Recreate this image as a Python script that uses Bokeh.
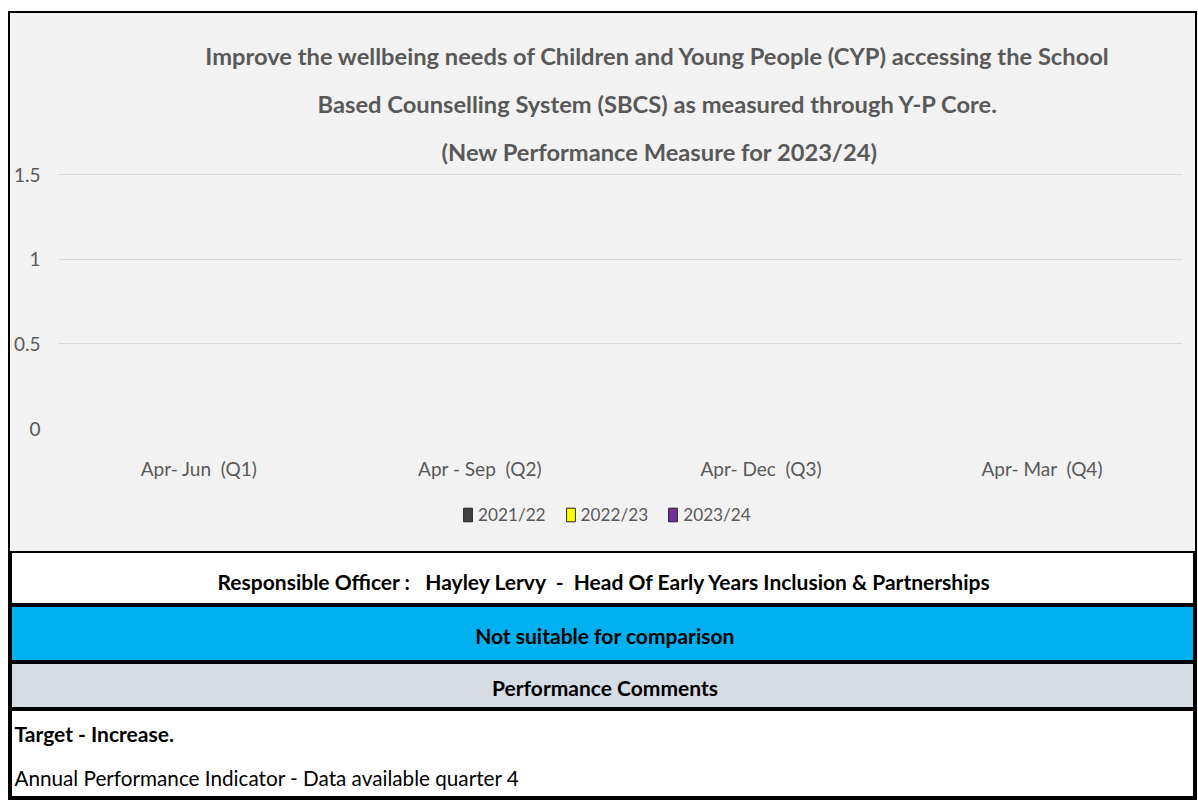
import math
from bokeh.plotting import figure
from bokeh.layouts import column
from bokeh.models import (FactorRange, Range1d, FixedTicker, Legend, LegendItem, Title,
                          ColumnDataSource, NumeralTickFormatter)
from bokeh.transform import dodge
from bokeh.core.properties import value
from bokeh.embed import file_html
from bokeh.resources import INLINE

NB = "\u00a0"

# ---------------- data ----------------
categories = ["Apr- Jun" + NB * 2 + "(Q1)", "Apr - Sep" + NB * 2 + "(Q2)",
              "Apr- Dec" + NB * 2 + "(Q3)", "Apr- Mar" + NB * 2 + "(Q4)"]
series_names = ["2021/22", "2022/23", "2023/24"]
values_2021_22 = [None, None, None, None]
values_2022_23 = [None, None, None, None]
values_2023_24 = [None, None, None, None]
series_colors = ["#404040", "#ffff00", "#7030a0"]
y_ticks = [0, 0.5, 1, 1.5]

title_lines = [
    "Improve the wellbeing needs of Children and Young People (CYP) accessing the School",
    "Based Counselling System (SBCS) as measured through Y-P Core.",
    "(New Performance Measure for 2023/24)",
]
officer_text = ("Responsible Officer :" + NB * 3 + "Hayley Lervy" + NB * 2 + "-" + NB * 2 +
                "Head Of Early Years Inclusion & Partnerships")
comparison_text = "Not suitable for comparison"
comments_header = "Performance Comments"
target_text = "Target - Increase."
comment_text = "Annual Performance Indicator - Data available quarter 4"

FONT = "Lato"
GREY = "#595959"
BG = "#f2f2f2"
W = 1185


def nanify(vals):
    return [float("nan") if v is None else v for v in vals]


src = ColumnDataSource(dict(cat=categories,
                            s0=nanify(values_2021_22),
                            s1=nanify(values_2022_23),
                            s2=nanify(values_2023_24)))
offsets = [-0.25, 0.0, 0.25]


def strip(h, bg, outline=None):
    f = figure(width=W, height=h, x_range=Range1d(0, W), y_range=Range1d(h, 0), title=None,
               output_backend="svg", toolbar_location=None, min_border=0, frame_align=False,
               x_axis_location=None, y_axis_location=None,
               background_fill_color=bg, border_fill_color=bg,
               outline_line_color=outline, outline_line_width=3)
    f.grid.visible = False
    return f


# ---------------- title strip (first two lines) ----------------
ts = strip(112, BG)
ts.text(x=[647.5] * 2, y=[42, 90], text=title_lines[:2], text_align="center",
        text_baseline="middle", text_font=value(FONT), text_font_size="23.7px",
        text_font_style="bold", text_color=GREY)

# ---------------- chart ----------------
# top of range padded by one pixel's worth so the 1.5 gridline is not clipped
p = figure(x_range=FactorRange(*categories), y_range=Range1d(0, 1.5 * 255 / 254),
           width=W, height=367, title=None,
           output_backend="svg", toolbar_location=None, frame_align=False,
           min_border_left=48, min_border_right=13, min_border_top=48, min_border_bottom=64,
           background_fill_color=BG, border_fill_color=BG,
           outline_line_color=None)

p.add_layout(Title(text=title_lines[2], align="left", offset=383, standoff=16,
                   text_font=FONT, text_font_size="23.7px", text_font_style="bold",
                   text_color=GREY), "above")

for i, name in enumerate(series_names):
    p.vbar(x=dodge("cat", offsets[i], range=p.x_range), top="s%d" % i, width=0.22,
           source=src, fill_color=series_colors[i], line_color="#262626", line_width=1)

p.xgrid.grid_line_color = None
p.ygrid.grid_line_color = "#d9d9d9"
p.ygrid.grid_line_width = 1

p.yaxis.ticker = FixedTicker(ticks=y_ticks)
p.yaxis.formatter = NumeralTickFormatter(format="0.[0]")
for ax in (p.xaxis, p.yaxis):
    ax.axis_line_color = None
    ax.major_tick_line_color = None
    ax.minor_tick_line_color = None
    ax.major_tick_out = 0
    ax.major_tick_in = 0
    ax.major_label_text_font = FONT
    ax.major_label_text_font_size = "19px"
    ax.major_label_text_color = GREY
p.xaxis.major_label_standoff = 28
p.yaxis.major_label_standoff = 18

# ---------------- legend strip ----------------
lg = figure(x_range=FactorRange(*categories), y_range=Range1d(0, 1.5),
            width=W, height=59, title=None, output_backend="svg", toolbar_location=None,
            min_border=0, frame_align=False, x_axis_location=None, y_axis_location=None,
            background_fill_color=BG, border_fill_color=BG, outline_line_color=None)
lg.grid.visible = False
lrs = []
for i, name in enumerate(series_names):
    r = lg.vbar(x=dodge("cat", offsets[i], range=lg.x_range), top="s%d" % i, width=0.22,
                source=src, fill_color=series_colors[i], line_color="#262626", line_width=1)
    lrs.append(r)
legend = Legend(items=[LegendItem(label=n, renderers=[r]) for n, r in zip(series_names, lrs)],
                orientation="horizontal", location=(452, 26),
                glyph_width=11, glyph_height=17, label_standoff=5, spacing=19,
                label_text_font=FONT, label_text_font_size="17.2px", label_text_color=GREY,
                label_height=17, background_fill_alpha=0, border_line_color=None,
                padding=0, margin=0)
lg.add_layout(legend)


# ---------------- table rows ----------------
def centered(f, txt, y):
    f.text(x=[W / 2 + 2], y=[y], text=[txt], text_align="center", text_baseline="middle",
           text_font=value(FONT), text_font_size="21px", text_font_style="bold",
           text_color="#000000")


r1 = strip(54, "#ffffff", "black")
centered(r1, officer_text, 30)
r2 = strip(57, "#00b0f0", "black")
centered(r2, comparison_text, 30)
r3 = strip(47, "#d6dce4", "black")
centered(r3, comments_header, 25)
r4 = strip(89, "#ffffff", "black")
r4.text(x=[4], y=[24], text=[target_text], text_align="left", text_baseline="middle",
        text_font=value(FONT), text_font_size="21px", text_font_style="bold", text_color="#000000")
r4.text(x=[4], y=[68], text=[comment_text], text_align="left", text_baseline="middle",
        text_font=value(FONT), text_font_size="20.7px", text_font_style="normal", text_color="#000000")

layout = column(ts, p, lg, r1, r2, r3, r4, spacing=0,
                styles={"border": "2px solid black", "background-color": BG},
                margin=(11, 0, 0, 8))

open("out.html", "w").write(file_html(layout, INLINE))
